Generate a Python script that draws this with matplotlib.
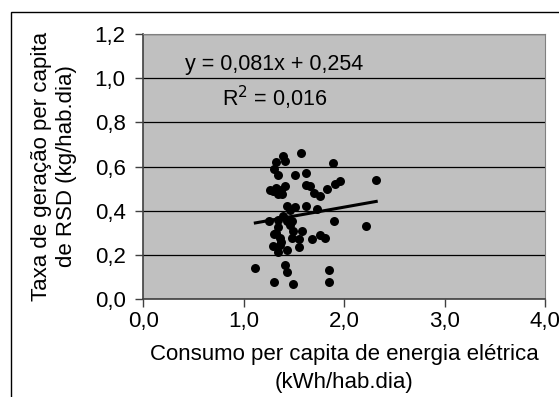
import matplotlib
matplotlib.use("Agg")
import matplotlib.pyplot as plt
from matplotlib.patches import Rectangle

plt.rcParams['font.family'] = ['Liberation Sans', 'DejaVu Sans']

# consumo per capita (kWh/hab.dia) x taxa de geração (kg/hab.dia)
consumo = [1.117, 1.306, 1.495, 1.413, 1.434, 1.851, 1.851, 1.324, 1.395, 1.413,
           1.573, 1.306, 1.342, 1.512, 1.626, 1.886, 2.320, 1.260, 1.288, 1.324,
           1.342, 1.377, 1.413, 1.384, 1.619, 1.662, 1.698, 1.758, 1.833, 1.911,
           1.964, 1.434, 1.466, 1.512, 1.626, 1.733, 1.253, 1.342, 1.395, 1.434,
           1.484, 1.466, 1.342, 1.324, 1.306, 1.584, 1.495, 1.904, 2.221, 1.359,
           1.370, 1.288, 1.359, 1.342, 1.434, 1.477, 1.548, 1.548, 1.683, 1.758,
           1.815]
geracao = [0.142, 0.076, 0.068, 0.153, 0.124, 0.132, 0.078, 0.622, 0.646, 0.627,
           0.662, 0.588, 0.561, 0.561, 0.570, 0.614, 0.541, 0.493, 0.489, 0.504,
           0.477, 0.493, 0.514, 0.477, 0.517, 0.514, 0.481, 0.468, 0.498, 0.520,
           0.533, 0.423, 0.404, 0.415, 0.423, 0.407, 0.351, 0.359, 0.375, 0.352,
           0.351, 0.336, 0.328, 0.299, 0.296, 0.307, 0.307, 0.351, 0.331, 0.275,
           0.258, 0.242, 0.246, 0.213, 0.223, 0.278, 0.270, 0.234, 0.270, 0.288,
           0.278]

slope, intercept = 0.081, 0.254
x_ticks = [0.0, 1.0, 2.0, 3.0, 4.0]
y_ticks = [0.0, 0.2, 0.4, 0.6, 0.8, 1.0, 1.2]

fig = plt.figure(figsize=(5.59, 3.97), dpi=100)
ax = fig.add_axes([0.256, 0.247, 0.719, 0.667])
ax.set_facecolor('#c0c0c0')

ax.scatter(consumo, geracao, s=42, color='black', zorder=3, linewidths=0)
xl = [min(consumo), max(consumo)]
ax.plot(xl, [slope * v + intercept for v in xl], color='black', lw=2.2, zorder=4)

ax.set_xlim(0, 4)
ax.set_ylim(0, 1.2)
ax.set_xticks(x_ticks)
ax.set_yticks(y_ticks)
ax.set_xticklabels([f"{v:.1f}".replace('.', ',') for v in x_ticks])
ax.set_yticklabels([f"{v:.1f}".replace('.', ',') for v in y_ticks])
ax.yaxis.grid(True, color='black', lw=0.9)
ax.set_axisbelow(True)
ax.tick_params(axis='both', direction='out', length=5.5, width=1, labelsize=16, color='#404040')
ax.tick_params(axis='x', pad=3)
ax.tick_params(axis='y', pad=7)
for s in ['top', 'right']:
    ax.spines[s].set_color('#808080')
for s in ['left', 'bottom']:
    ax.spines[s].set_color('#404040')
    ax.spines[s].set_linewidth(1.2)

ax.set_xlabel("Consumo per capita de energia elétrica\n(kWh/hab.dia)", fontsize=16, labelpad=9, linespacing=1.4)
ax.set_ylabel("Taxa de geração per capita\nde RSD (kg/hab.dia)", fontsize=16, labelpad=13, linespacing=1.2)

ax.text(0.325, 0.885, "y = 0,081x + 0,254", transform=ax.transAxes, fontsize=15.5, ha='center', va='center')
ax.text(0.327, 0.76, "R$^2$ = 0,016", transform=ax.transAxes, fontsize=15.5, ha='center', va='center')

fig.patches.append(Rectangle((11 / 559, -0.1), 1.2, 1 - 12 / 397 + 0.1, transform=fig.transFigure,
                             fill=False, edgecolor='black', lw=1))

fig.savefig("out.png", dpi=100)
